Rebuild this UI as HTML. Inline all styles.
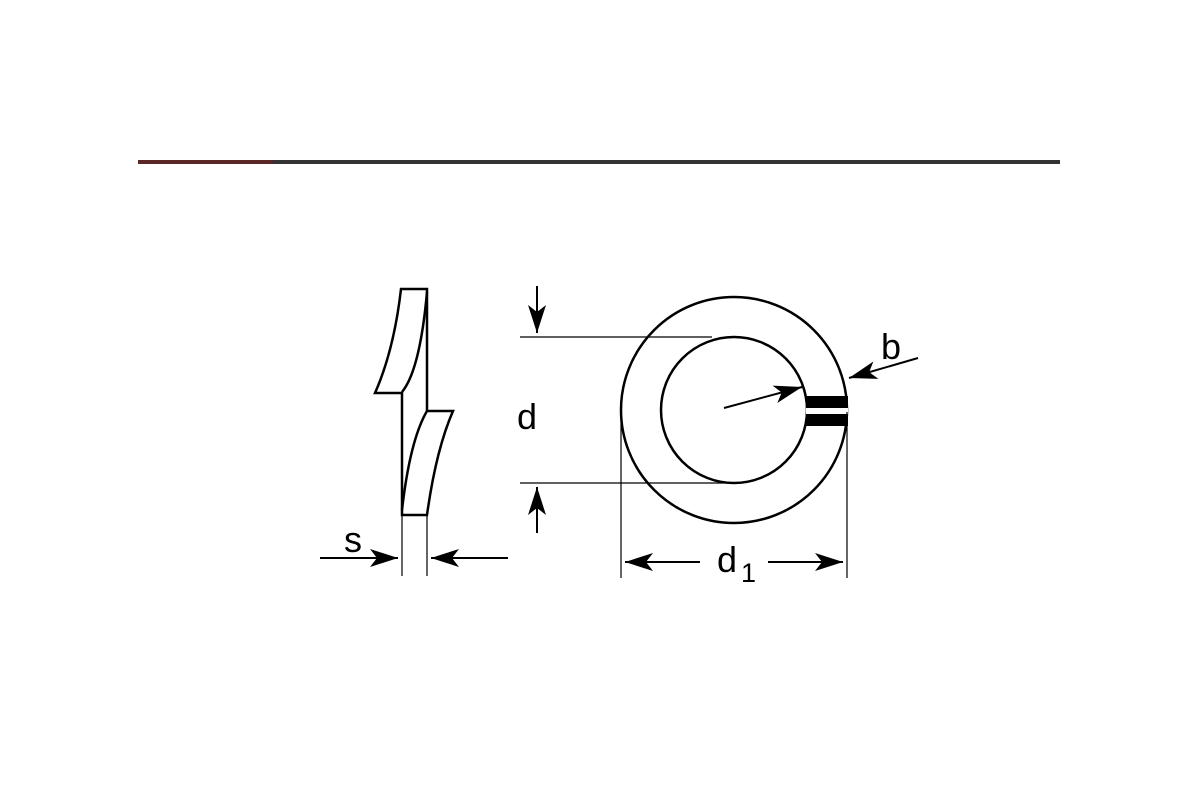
<!DOCTYPE html>
<html><head><style>body{margin:0;background:#fff;}svg{display:block}</style></head><body>
<svg width="1200" height="800" viewBox="0 0 1200 800" xmlns="http://www.w3.org/2000/svg">
<defs>
<marker id="A" viewBox="0 0 28 18" refX="28" refY="9" markerWidth="28" markerHeight="18" orient="auto" markerUnits="userSpaceOnUse"><path d="M0,0L28,9L0,18L7,9Z" fill="#000"/></marker></defs>
<rect x="138" y="160" width="922" height="4" fill="#333"/>
<rect x="138" y="160" width="135" height="4" fill="#5a2626"/>
<g fill="none" stroke="#000" stroke-width="2.5">
<path d="M401,289 H427 V411 H453 Q436,450 427,515 H402 V393 H375 Q394,350 401,289Z"/>
<path d="M427,292 Q420,370 402,392"/>
<path d="M427,411 Q410,440 402,510"/>
<circle cx="734" cy="410" r="113"/>
<circle cx="734" cy="410" r="73"/>
</g>
<rect x="806" y="396" width="42" height="12" fill="#000"/>
<rect x="806" y="414" width="42" height="12" fill="#000"/>
<rect x="806" y="408" width="42" height="6" fill="#fff"/>
<g stroke="#000" stroke-width="1.2" fill="none">
<line x1="402" y1="515" x2="402" y2="576"/><line x1="427" y1="515" x2="427" y2="576"/>
<line x1="520" y1="337" x2="712" y2="337"/><line x1="520" y1="483" x2="734" y2="483"/>
<line x1="621" y1="412" x2="621" y2="578"/><line x1="847" y1="412" x2="847" y2="578"/>
</g>
<g stroke="#000" stroke-width="2" fill="none">
<line x1="320" y1="558" x2="398" y2="558" marker-end="url(#A)"/>
<line x1="508" y1="558" x2="431" y2="558" marker-end="url(#A)"/>
<line x1="537" y1="286" x2="537" y2="333" marker-end="url(#A)"/>
<line x1="537" y1="533" x2="537" y2="487" marker-end="url(#A)"/>
<line x1="700" y1="562" x2="625" y2="562" marker-end="url(#A)"/>
<line x1="768" y1="562" x2="843" y2="562" marker-end="url(#A)"/>
<line x1="724" y1="408" x2="802" y2="387" marker-end="url(#A)"/>
<line x1="918" y1="358" x2="849" y2="378" marker-end="url(#A)"/>
</g>
<g font-family="Liberation Sans, sans-serif" font-size="36" fill="#000">
<text x="344" y="552">s</text>
<text x="517" y="429">d</text>
<text x="717" y="572">d</text><text x="741" y="582" font-size="27">1</text>
<text x="881" y="359">b</text>
</g>
</svg>
</body></html>
